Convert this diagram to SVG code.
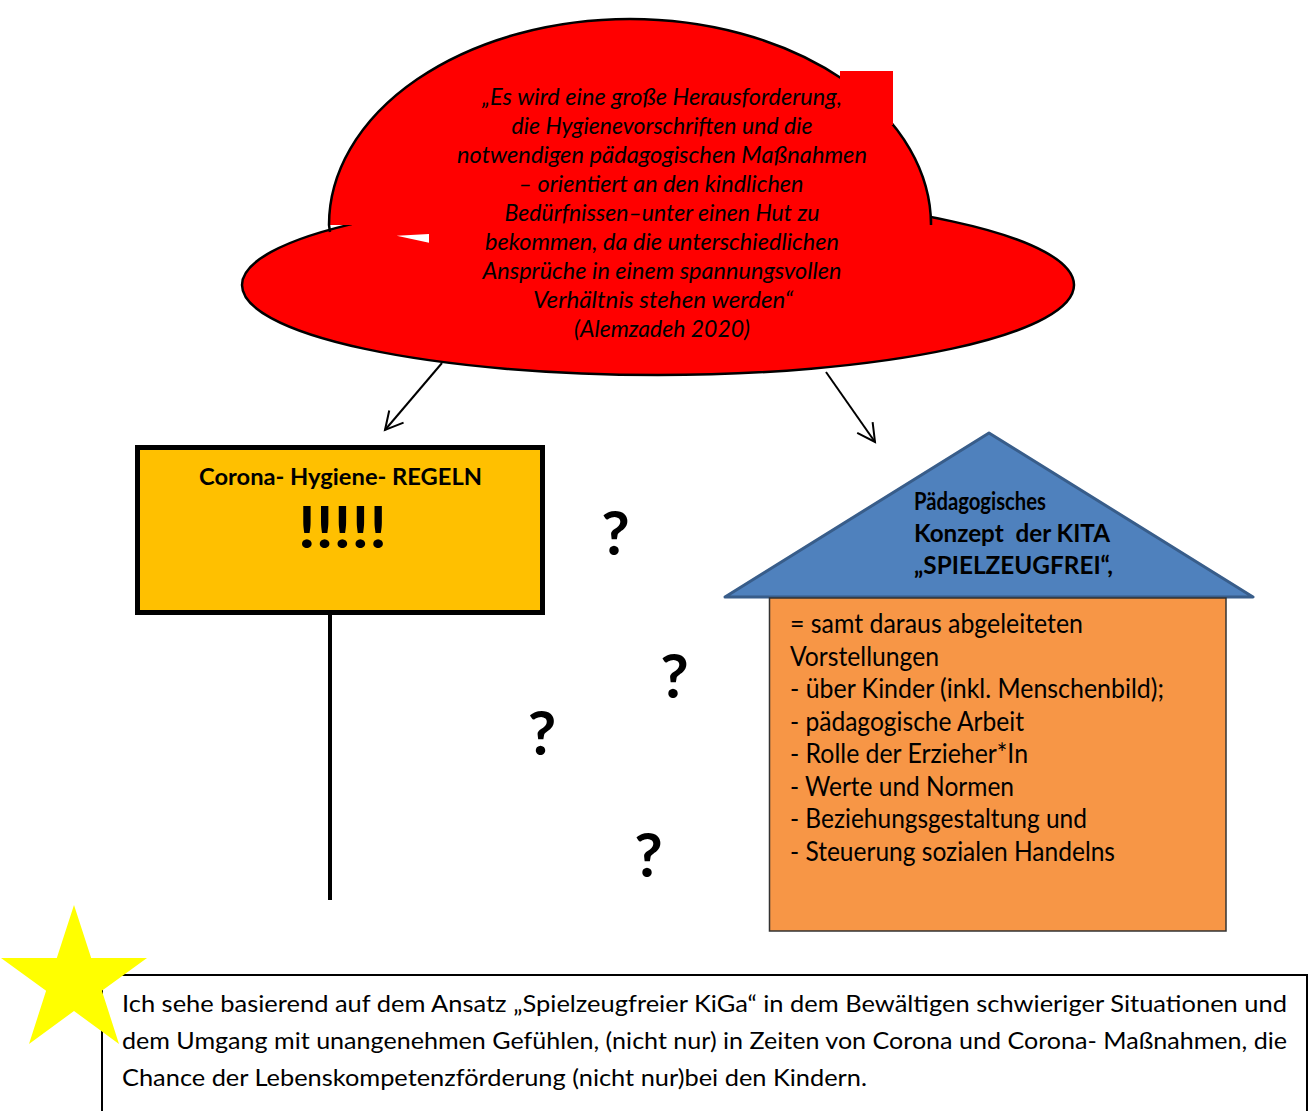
<svg xmlns="http://www.w3.org/2000/svg" width="1312" height="1111" viewBox="0 0 1312 1111">
<style>
  .hat { fill: #FF0000; }
  .hatline { fill: none; stroke: #000; stroke-width: 2.5; }
  .quote { font-family: Lato, "Open Sans", sans-serif; font-style: italic; font-size: 24px; fill: #000; text-anchor: middle; }
  .bold { font-family: Lato, "Open Sans", sans-serif; font-weight: bold; fill: #000; }
  .body { font-family: Lato, "Open Sans", sans-serif; font-size: 26px; fill: #000; }
  .note { font-family: Lato, "Open Sans", sans-serif; font-size: 24px; fill: #000; }
  .conn { fill: none; stroke: #000; stroke-width: 2; }
</style>
<defs>
  <marker id="arrow" markerUnits="userSpaceOnUse" orient="auto" refX="0" refY="0" markerWidth="40" markerHeight="40" viewBox="-20 -20 40 40" overflow="visible">
    <path d="M-17.6,-9.4 L0,0 L-17.6,9.4" fill="none" stroke="#000" stroke-width="2"/>
  </marker>
</defs>
<rect width="1312" height="1111" fill="#fff"/>

<g id="hat">
  <ellipse cx="658" cy="285" rx="416" ry="90" fill="#FF0000" stroke="#000" stroke-width="2.5"/>
  <path class="hat" d="M329,225 A301,206 0 0 1 931,225 Z"/>
  <rect class="hat" x="352" y="198" width="577" height="31"/>
  <path class="hatline" d="M330,232 L329,225 A301,206 0 0 1 931,225 L931,219"/>
  <rect class="hat" x="840" y="71" width="53" height="54"/>
  <polygon points="396.7,235.7 429,234 429,242.7" fill="#fff"/>
  <text class="quote" x="662" y="105" textLength="360" lengthAdjust="spacingAndGlyphs">„Es wird eine große Herausforderung,</text>
  <text class="quote" x="662" y="134" textLength="301" lengthAdjust="spacingAndGlyphs">die Hygienevorschriften und die</text>
  <text class="quote" x="662" y="163" textLength="410" lengthAdjust="spacingAndGlyphs">notwendigen pädagogischen Maßnahmen</text>
  <text class="quote" x="661" y="192" textLength="285" lengthAdjust="spacingAndGlyphs">– orientiert an den kindlichen</text>
  <text class="quote" x="662" y="221" textLength="315" lengthAdjust="spacingAndGlyphs">Bedürfnissen–unter einen Hut zu</text>
  <text class="quote" x="662" y="250" textLength="354" lengthAdjust="spacingAndGlyphs">bekommen, da die unterschiedlichen</text>
  <text class="quote" x="662" y="279" textLength="359" lengthAdjust="spacingAndGlyphs">Ansprüche in einem spannungsvollen</text>
  <text class="quote" x="663" y="308" textLength="260" lengthAdjust="spacingAndGlyphs">Verhältnis stehen werden“</text>
  <text class="quote" x="662" y="337" textLength="176" lengthAdjust="spacingAndGlyphs">(Alemzadeh 2020)</text>
</g>

<g id="connectors">
  <line class="conn" x1="442" y1="363" x2="385" y2="430" marker-end="url(#arrow)"/>
  <line class="conn" x1="826" y1="372" x2="875" y2="442" marker-end="url(#arrow)"/>
</g>

<g id="sign">
  <line x1="330" y1="612" x2="330" y2="900" stroke="#000" stroke-width="4"/>
  <rect x="137.5" y="447.5" width="405" height="165" fill="#FFC000" stroke="#000" stroke-width="5"/>
  <text class="bold" x="340.5" y="485" font-size="23" text-anchor="middle" textLength="283" lengthAdjust="spacingAndGlyphs">Corona- Hygiene- REGELN</text>
  <text class="bold" x="342.5" y="548" font-size="58" text-anchor="middle" textLength="89" lengthAdjust="spacingAndGlyphs">!!!!!</text>
</g>

<g id="questions">
  <text class="bold" x="615.5" y="555" font-size="62" font-weight="900" text-anchor="middle">?</text>
  <text class="bold" x="674.5" y="698" font-size="62" font-weight="900" text-anchor="middle">?</text>
  <text class="bold" x="542" y="755" font-size="62" font-weight="900" text-anchor="middle">?</text>
  <text class="bold" x="648.5" y="877" font-size="62" font-weight="900" text-anchor="middle">?</text>
</g>

<g id="house">
  <polygon points="725,597 989,433 1253,597" fill="#4F81BD" stroke="#385D8A" stroke-width="3" stroke-linejoin="round"/>
  <text class="bold" x="914" y="510" font-size="24" textLength="132" lengthAdjust="spacingAndGlyphs">Pädagogisches</text>
  <text class="bold" x="914" y="542" font-size="24" textLength="196" lengthAdjust="spacingAndGlyphs" xml:space="preserve">Konzept  der KITA</text>
  <text class="bold" x="914" y="574" font-size="24" textLength="199" lengthAdjust="spacingAndGlyphs">„SPIELZEUGFREI“,</text>
  <rect x="769.5" y="598" width="456.5" height="333" fill="#F79646" stroke="#333" stroke-width="1.5"/>
  <text class="body" x="790" y="633" textLength="293" lengthAdjust="spacingAndGlyphs">= samt daraus abgeleiteten</text>
  <text class="body" x="790" y="665.5" textLength="149" lengthAdjust="spacingAndGlyphs">Vorstellungen</text>
  <text class="body" x="790" y="698" textLength="374" lengthAdjust="spacingAndGlyphs">- über Kinder (inkl. Menschenbild);</text>
  <text class="body" x="790" y="730.5" textLength="234" lengthAdjust="spacingAndGlyphs">- pädagogische Arbeit</text>
  <text class="body" x="790" y="763" textLength="238" lengthAdjust="spacingAndGlyphs">- Rolle der Erzieher*In</text>
  <text class="body" x="790" y="795.5" textLength="224" lengthAdjust="spacingAndGlyphs">- Werte und Normen</text>
  <text class="body" x="790" y="828" textLength="297" lengthAdjust="spacingAndGlyphs">- Beziehungsgestaltung und</text>
  <text class="body" x="790" y="860.5" textLength="325" lengthAdjust="spacingAndGlyphs">- Steuerung sozialen Handelns</text>
</g>

<g id="note">
  <rect x="102" y="975" width="1205" height="150" fill="#fff" stroke="#000" stroke-width="2"/>
  <text class="note" x="122" y="1012" textLength="1165" lengthAdjust="spacingAndGlyphs">Ich sehe basierend auf dem Ansatz „Spielzeugfreier KiGa“ in dem Bewältigen schwieriger Situationen und</text>
  <text class="note" x="122" y="1049" textLength="1165" lengthAdjust="spacingAndGlyphs">dem Umgang mit unangenehmen Gefühlen, (nicht nur) in Zeiten von Corona und Corona- Maßnahmen, die</text>
  <text class="note" x="122" y="1086" textLength="745" lengthAdjust="spacingAndGlyphs">Chance der Lebenskompetenzförderung (nicht nur)bei den Kindern.</text>
</g>

<g id="star">
  <polygon points="74,905 91.2,958 147,958 101.9,990.8 119,1044 74,1011 29,1044 46.1,990.8 1,958 56.8,958" fill="#FFFF00"/>
</g>
</svg>
